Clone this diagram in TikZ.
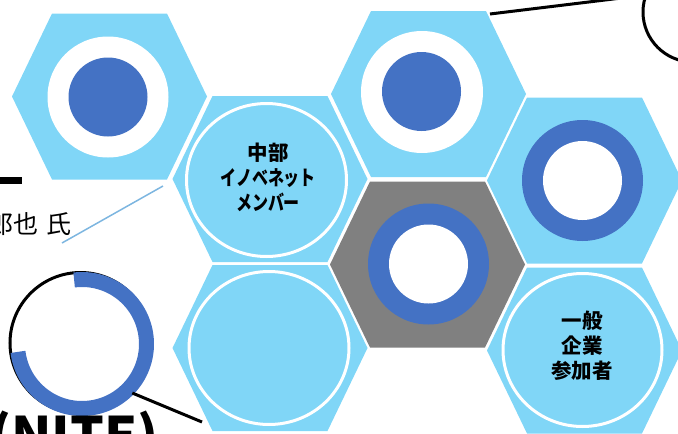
\documentclass[tikz,border=0pt]{standalone}
\usepackage{fontspec}
\newfontfamily\jp{Noto Sans CJK JP}
\newfontfamily\jpn[FakeStretch=0.78]{Noto Sans CJK JP}
\usetikzlibrary{calc}
\definecolor{hexblue}{RGB}{128,214,247}
\definecolor{ringblue}{RGB}{68,114,196}
\definecolor{hexgray}{RGB}{128,128,128}
\definecolor{thinblue}{RGB}{125,182,224}
\tikzset{
  hexa/.pic={\path[pic actions] (-97.5,0) -- (-57.5,-83) -- (57.5,-83) -- (97.5,0) -- (57.5,83) -- (-57.5,83) -- cycle;},
  lbl/.style={align=center, inner sep=0pt, text=black, font=\jp\bfseries\fontsize{20.5}{25}\selectfont},
  whiteoutline/.style={draw=white, line width=3pt},
  connector/.style={draw=black, line width=3pt},
}
\begin{document}
\begin{tikzpicture}[x=1pt,y=-1pt]
\useasboundingbox (0,0) rectangle (678,434);
\clip (0,0) rectangle (678,434);
% hexagons
\pic[fill=hexblue] at (109.5,96.5) {hexa};
\pic[fill=hexblue] at (428.5,94) {hexa};
\pic[fill=hexblue] at (584.5,180.5) {hexa};
\pic[fill=hexgray] at (427.5,264.5) {hexa};
\pic[fill=hexblue] at (584.5,350.5) {hexa};
\pic[fill=hexblue] at (270,179) {hexa};
\pic[fill=hexblue] at (270,348) {hexa};
% H1, H2: white disc with blue dot
\fill[white] (108,97) circle[radius=60.5];
\fill[ringblue] (108,97) circle[radius=39.5];
\fill[white] (422,92) circle[radius=61];
\fill[ringblue] (421.5,91.5) circle[radius=39.5];
% H3, H4: blue ring
\fill[ringblue] (582.5,180.5) circle[radius=60.5];
\fill[white] (582.5,180.5) circle[radius=39.5];
\fill[ringblue] (428.5,264) circle[radius=60.5];
\fill[white] (428.5,264) circle[radius=39.5];
% outlined ellipses
\draw[whiteoutline] (266.5,180) ellipse[x radius=80, y radius=76.5];
\draw[whiteoutline] (269,348) ellipse[x radius=80, y radius=76.5];
\draw[whiteoutline] (582.5,350) ellipse[x radius=79.5, y radius=76.5];
% labels
\node[lbl] (t6) at (268,177) {中部\\{\jpn イノベネット}\\{\jpn メンバー}};
\node[lbl] (t5) at (582,345.5) {一般\\企業\\参加者};
% left texts
\fill[black] (-1,177) rectangle (22,184);
\node[anchor=base east, inner sep=0pt, font=\jp\fontsize{25}{25}\selectfont] (name) at (71.5,233) {郎也\hspace{0.3em}氏};
\coordinate (lb1) at (62,243);
\coordinate (lb2) at (163,186);
\draw[thinblue, line width=1.5pt] (lb1) -- (lb2);
% magnifier circle bottom left
\node[circle, draw=black, line width=3pt, minimum size=141pt, inner sep=0pt] (mag) at (80.5,343) {};
\draw[ringblue, line width=15pt] (82,344) ++(-97:64.5) arc[start angle=-97, end angle=173, radius=64.5];
\coordinate (magend) at (202,422);
\draw[connector] (mag.-44) -- (magend);
\node[anchor=base east, inner sep=0pt, font=\jp\bfseries\fontsize{53}{53}\selectfont] (nite) at (159,455) {(NITE)};
% top right circle
\node[circle, draw=black, line width=3pt, minimum size=100pt, inner sep=0pt] (tr) at (693,12) {};
\coordinate (h2tr) at (490,14);
\draw[connector] (h2tr) -- (tr.161);
\end{tikzpicture}
\end{document}
